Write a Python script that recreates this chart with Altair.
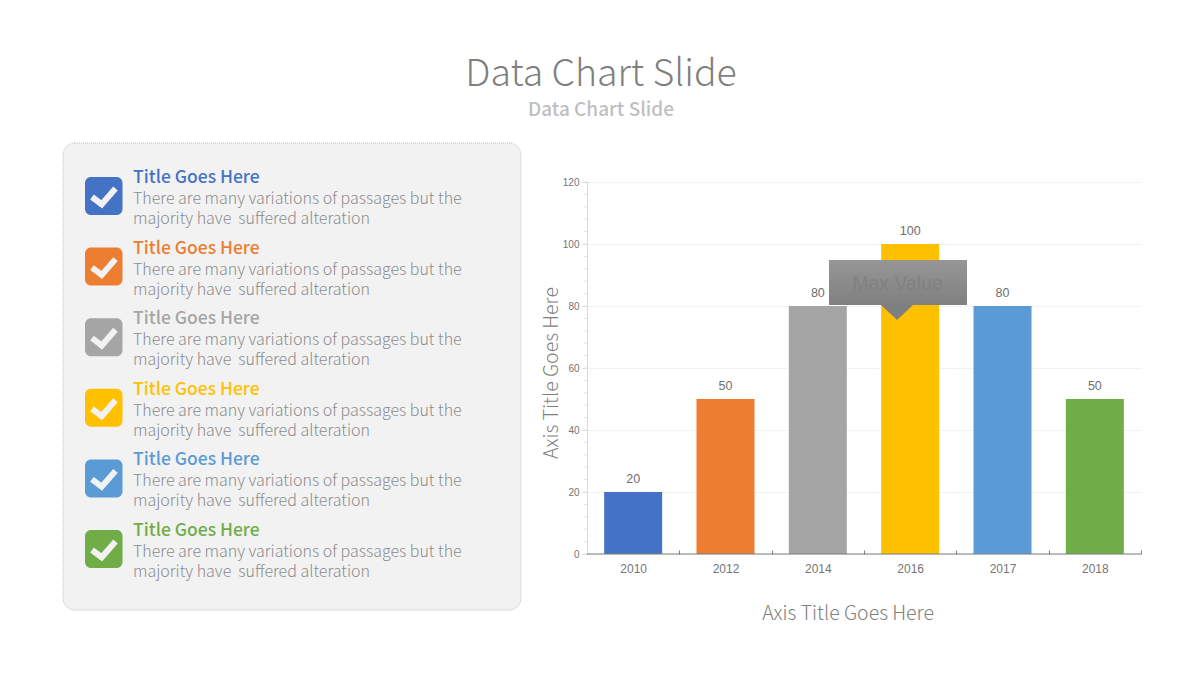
import altair as alt
import pandas as pd

years = ["2010", "2012", "2014", "2016", "2017", "2018"]
values = [20, 50, 80, 100, 80, 50]
colors = ["#4472C4", "#ED7D31", "#A5A5A5", "#FFC000", "#5B9BD5", "#70AD47"]
minor_ticks = [v for v in range(0, 121, 4)]
title_main = "Data Chart Slide"
title_sub = "Data Chart Slide"
item_title = "Title Goes Here"
item_line1 = "There are many variations of passages but the"
item_line2 = "majority have\u00a0 suffered alteration"
axis_title = "Axis Title Goes Here"
callout = "Max Value"

PX, PY = 587, 182
W, H = 554, 372
FONT = "Noto Sans CJK SC"
one = alt.Data(values=[{"a": 1}])
df = pd.DataFrame({"year": years, "value": values})


def X(v):
    return alt.value(v - PX)


def Y(v):
    return alt.value(v - PY)


def text(s, x, y, size, color, align="left", weight=400, font=FONT, angle=None):
    kw = {"angle": angle} if angle is not None else {}
    return alt.Chart(one).mark_text(
        text=s, fontSize=size, color=color, align=align, baseline="middle",
        fontWeight=weight, font=font, **kw
    ).encode(x=X(x), y=Y(y))


def rect(x0, x1, y0, y1, **kw):
    return alt.Chart(one).mark_rect(**kw).encode(x=X(x0), x2=X(x1), y=Y(y0), y2=Y(y1))


def rule(x0, y0, x1, y1, color, width):
    return alt.Chart(one).mark_rule(color=color, strokeWidth=width).encode(
        x=X(x0), x2=X(x1), y=Y(y0), y2=Y(y1))


layers = [
    text(title_main, 601, 74.5, 37.5, "#7F7F7F", "center", 300),
    text(title_sub, 601, 110, 19, "#BFBFBF", "center", 500),
    rect(63, 521, 143, 610, fill="#F2F2F2", stroke="#BFBFBF", strokeWidth=1,
         strokeDash=[1, 1], cornerRadius=12),
]

step = 70.6
for i, c in enumerate(colors):
    dy = i * step
    layers += [
        rect(85, 122.5, 177 + dy, 215 + dy, fill=c, cornerRadius=6),
        rule(92, 197 + dy, 102, 204.5 + dy, "#F2F2F2", 6),
        rule(99.8, 206.5 + dy, 115.5, 188.5 + dy, "#F2F2F2", 6),
        text(item_title, 133, 178 + dy, 17.5, c, weight=500),
        text(item_line1, 133, 199 + dy, 16, "#8C8C8C", weight=300),
        text(item_line2, 133, 219 + dy, 16, "#8C8C8C", weight=300),
    ]

x_enc = alt.X("year:N", sort=years, scale=alt.Scale(paddingInner=0, paddingOuter=0),
              axis=alt.Axis(title=None, labelAngle=0, labelFont="Liberation Sans", labelFontSize=12,
                            labelColor="#757575", ticks=True, tickBand="extent", tickSize=4,
                            tickColor="#7F7F7F", offset=-4, domain=False,
                            labelPadding=9.5))
y_enc = alt.Y("value:Q", scale=alt.Scale(domain=[0, 120]),
              axis=alt.Axis(title=None, values=list(range(0, 121, 20)), labelFont="Liberation Sans",
                            labelFontSize=10, labelColor="#757575", tickColor="#D9D9D9", tickSize=5,
                            domainColor="#D9D9D9", gridColor="#F2F2F2", labelPadding=3))

bars = alt.Chart(df).mark_bar(size=58).encode(
    x=x_enc, y=y_enc,
    fill=alt.Fill("year:N", sort=years, scale=alt.Scale(domain=years, range=colors), legend=None),
)
labels = alt.Chart(df).mark_text(dy=-13.5, fontSize=12.5, color="#6E6E6E", font="Liberation Sans").encode(
    x=alt.X("year:N", sort=years), y="value:Q", text="value:Q")
minor = alt.Chart(pd.DataFrame({"v": minor_ticks})).mark_rule(color="#E6E6E6").encode(
    x=alt.value(-3), x2=alt.value(0), y=alt.Y("v:Q"))
baseline = rule(PX, PY + H, PX + W, PY + H, "#7F7F7F", 1.2)

shade = alt.LinearGradient(gradient="linear", x1=0, x2=0, y1=0, y2=1, stops=[
    alt.GradientStop(color="#969696", offset=0), alt.GradientStop(color="#808080", offset=1)])
box = rect(829, 967, 260, 305, fill=shade)
pointer = alt.Chart(one).mark_point(
    shape="M-1,-0.47L1,-0.47L0,0.47Z", filled=True, fill="#7F7F7F", opacity=1, size=1024, strokeWidth=0
).encode(x=X(897), y=Y(312.5))

layers += [
    bars, minor, baseline, labels,
    box, pointer,
    text(callout, 897.5, 284, 19.5, "#818181", "center", font="Liberation Sans"),
    text(axis_title, 848, 614, 19.5, "#7F7F7F", "center", 300),
    text(axis_title, 552, 373, 19.5, "#7F7F7F", "center", 300, angle=270),
]

chart = alt.layer(*layers).properties(
    width=W, height=H,
    autosize=alt.AutoSizeParams(type="none"),
    padding={"left": PX - 8, "top": PY - 8, "right": 51, "bottom": 118},
).configure_view(stroke=None)

chart.save("out.html", embed_options={"renderer": "svg", "actions": False})
